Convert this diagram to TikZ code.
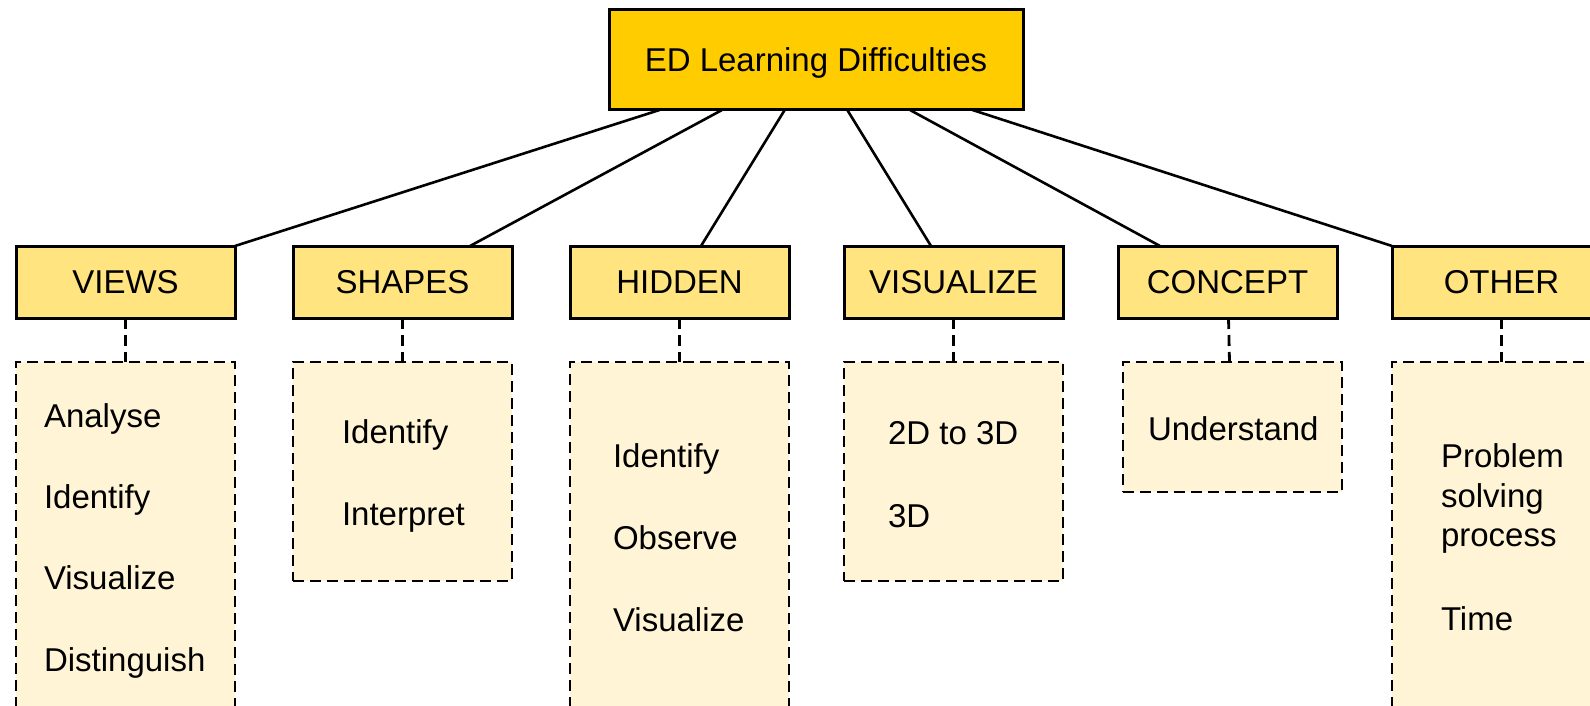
\documentclass[tikz,border=0pt]{standalone}
\usepackage{fontspec}
\setmainfont{Liberation Sans}
\definecolor{topfill}{HTML}{FFCC00}
\definecolor{headfill}{HTML}{FFE47F}
\definecolor{listfill}{HTML}{FFF5D6}
\begin{document}
\begin{tikzpicture}[x=1pt,y=-1pt,
  font=\fontsize{33}{40}\selectfont,
  topbox/.style={draw=black, line width=3pt, fill=topfill, anchor=north west,
    minimum width=414pt, minimum height=100pt, inner sep=0pt, outer sep=0pt,
    text height=23.6pt, text depth=0pt},
  headbox/.style={draw=black, line width=3pt, fill=headfill, anchor=north west,
    minimum width=219pt, minimum height=72pt, inner sep=0pt, outer sep=0pt,
    text height=23.6pt, text depth=0pt},
  listbox/.style={draw=black, line width=2.8pt, dash pattern=on 11pt off 6pt,
    fill=listfill, anchor=north west, minimum width=219pt, inner sep=0pt, outer sep=0pt},
  item/.style={anchor=base west, inner sep=0pt, outer sep=0pt},
  link/.style={draw=black, line width=2.6pt},
  dlink/.style={draw=black, line width=2.8pt, dash pattern=on 11pt off 6pt}]
\useasboundingbox (0,0) rectangle (1590,706);
\clip (0,0) rectangle (1590,706);

% top node
\node[topbox] (top) at (609,10) {ED Learning Difficulties};

% headers
\node[headbox] (views) at (16,246) {VIEWS};
\node[headbox] (shapes) at (293,246) {SHAPES};
\node[headbox] (hidden) at (570,246) {HIDDEN};
\node[headbox] (visual) at (844,246) {VISUALIZE};
\node[headbox] (concept) at (1118,246) {CONCEPT};
\node[headbox] (other) at (1392,246) {OTHER};

% list boxes
\node[listbox, minimum height=400pt] (viewsl) at (16,362) {};
\node[listbox, minimum height=219pt] (shapesl) at (293,362) {};
\node[listbox, minimum height=400pt] (hiddenl) at (570,362) {};
\node[listbox, minimum height=219pt] (visuall) at (844,362) {};
\node[listbox, minimum height=130pt] (conceptl) at (1123,362) {};
\node[listbox, minimum height=400pt] (otherl) at (1392,362) {};

% connectors top -> headers
\draw[link] ([xshift=-156.5pt]top.south) -- ([xshift=219pt]views.north west);
\draw[link] ([xshift=-94pt]top.south) -- ([xshift=177pt]shapes.north west);
\draw[link] ([xshift=-31.3pt]top.south) -- ([xshift=131pt]hidden.north west);
\draw[link] ([xshift=31.3pt]top.south) -- ([xshift=87pt]visual.north west);
\draw[link] ([xshift=94pt]top.south) -- ([xshift=42pt]concept.north west);
\draw[link] ([xshift=156.5pt]top.south) -- (other.north west);

% dashed connectors headers -> lists
\draw[dlink] (views.south) -- (viewsl.north);
\draw[dlink] (shapes.south) -- (shapesl.north);
\draw[dlink] (hidden.south) -- (hiddenl.north);
\draw[dlink] (visual.south) -- (visuall.north);
\draw[dlink] ([xshift=1pt]concept.south) -- ([xshift=-3pt]conceptl.north);
\draw[dlink] (other.south) -- (otherl.north);

% items
\node[item] (v1) at (44,427) {Analyse};
\node[item] (v2) at (44,508) {Identify};
\node[item] (v3) at (44,589) {Visualize};
\node[item] (v4) at (44,671) {Distinguish};

\node[item] (s1) at (342,443) {Identify};
\node[item] (s2) at (342,525) {Interpret};

\node[item] (h1) at (613,467) {Identify};
\node[item] (h2) at (613,549) {Observe};
\node[item] (h3) at (613,631) {Visualize};

\node[item] (z1) at (888,444) {2D to 3D};
\node[item] (z2) at (888,527) {3D};

\node[item] (c1) at (1148,440) {Understand};

\node[item] (o1) at (1441,467) {Problem};
\node[item] (o2) at (1441,507) {solving};
\node[item] (o3) at (1441,546) {process};
\node[item] (o4) at (1441,630) {Time};
\end{tikzpicture}
\end{document}
